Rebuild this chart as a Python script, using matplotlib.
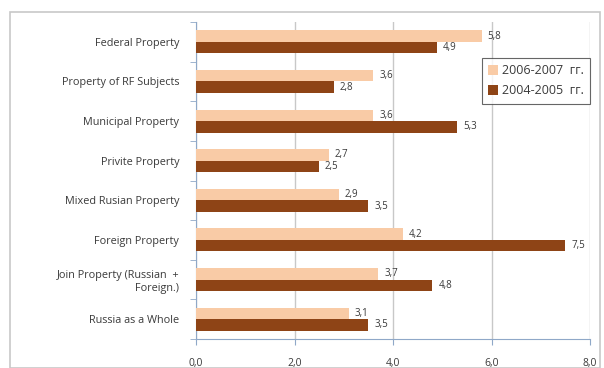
import numpy as np
import matplotlib
matplotlib.use('Agg')
import matplotlib.pyplot as plt
from matplotlib.patches import Rectangle

categories = ['Federal Property', 'Property of RF Subjects', 'Municipal Property',
              'Privite Property', 'Mixed Rusian Property', 'Foreign Property',
              'Join Property (Russian  +\nForeign.)', 'Russia as a Whole']
vals_0607 = [5.8, 3.6, 3.6, 2.7, 2.9, 4.2, 3.7, 3.1]
vals_0405 = [4.9, 2.8, 5.3, 2.5, 3.5, 7.5, 4.8, 3.5]
xticks = [0, 2, 4, 6, 8]

light = '#f9cba6'
dark = '#8e4416'
txt = '#3a3a3a'

plt.rcParams['font.family'] = ['Open Sans', 'DejaVu Sans']

fig = plt.figure(figsize=(6.04, 3.68), dpi=100)
fig.patches.append(Rectangle((10 / 604, 0), 590 / 604, 1 - 12 / 368, transform=fig.transFigure,
                             fill=False, edgecolor='#c8c8c8', linewidth=1.2))
ax = fig.add_axes([196 / 604, 1 - 339 / 368, 394 / 604, 317 / 368])

y = np.arange(len(categories))
h = 0.29
b1 = ax.barh(y - h / 2, vals_0607, height=h, color=light, label='2006-2007  гг.', zorder=3)
b2 = ax.barh(y + h / 2, vals_0405, height=h, color=dark, label='2004-2005  гг.', zorder=3)

for bars, vals in [(b1, vals_0607), (b2, vals_0405)]:
    for rect, v in zip(bars, vals):
        ax.text(v + 0.12, rect.get_y() + rect.get_height() / 2, f'{v:.1f}'.replace('.', ','),
                va='center', ha='left', fontsize=7, color=txt, zorder=4)

ax.set_ylim(len(categories) - 0.5, -0.5)
ax.set_xlim(0, 8)
ax.set_xticks(xticks)
ax.set_xticklabels([f'{t:.1f}'.replace('.', ',') for t in xticks], fontsize=7.5, color=txt)
ax.set_yticks(np.arange(len(categories) + 1) - 0.5, minor=True)
ax.set_yticks(y)
ax.set_yticklabels(categories, fontsize=7.8, color=txt)
ax.tick_params(axis='y', which='major', length=0, pad=12)
ax.tick_params(axis='y', which='minor', length=4, color='#8fa8c8')
ax.tick_params(axis='x', length=4, color='#8fa8c8', pad=10)
ax.grid(axis='x', color='#c8c8c8', linewidth=1, zorder=0)
for s in ['top', 'right']:
    ax.spines[s].set_visible(False)
ax.spines['left'].set_color('#8fa8c8')
ax.spines['bottom'].set_color('#8fa8c8')

leg = ax.legend(loc='upper left', bbox_to_anchor=(0.726, 0.886), fontsize=9, frameon=True,
                fancybox=False, edgecolor='#404040', handlelength=0.8, handleheight=0.8,
                handletextpad=0.3, borderpad=0.5, labelspacing=0.55, borderaxespad=0)
leg.get_frame().set_linewidth(0.8)
for t in leg.get_texts():
    t.set_color(txt)

fig.savefig('out.png', dpi=100)
